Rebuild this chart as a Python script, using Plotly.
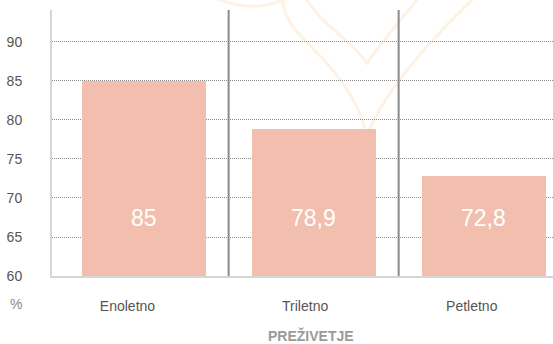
import plotly.graph_objects as go

# Survival rates (%)
categories = ["Enoletno", "Triletno", "Petletno"]
values = [85, 78.9, 72.8]
y_ticks = [60, 65, 70, 75, 80, 85, 90]
x_title = "PREŽIVETJE"
unit_label = "%"

W, H = 553, 344
L, R, T, B = 52, 0, 10, 68
PW, PH = W - L - R, H - T - B

FONT = "Liberation Sans Narrow, Arial Narrow, Liberation Sans, Arial, sans-serif"
BAR_COLOR = "#F2BFAE"

xpos = list(range(len(categories)))


def px(xp, yp):
    """pixel position -> paper coordinates"""
    return (xp - L) / PW, (H - B - yp) / PH


def path(points_cmds):
    out = []
    for cmd, pts in points_cmds:
        coords = " ".join("%.4f,%.4f" % px(*p) for p in pts)
        out.append(cmd + " " + coords)
    return " ".join(out)


fig = go.Figure()
fig.add_trace(go.Bar(
    x=xpos,
    y=values,
    width=0.73,
    marker=dict(color=BAR_COLOR, line=dict(width=0)),
    hoverinfo="skip",
))

# value labels inside the bars
for xi, v in zip(xpos, values):
    fig.add_annotation(
        x=xi, y=67.4, xref="x", yref="y",
        text=("%g" % v).replace(".", ","),
        showarrow=False,
        font=dict(family=FONT, size=23, color="white"),
        xanchor="center", yanchor="middle",
    )

shapes = []
# faint heart watermark in the background
wm = dict(type="path", xref="paper", yref="paper", layer="below",
          line=dict(color="rgba(250,200,160,0.26)", width=3),
          fillcolor="rgba(0,0,0,0)")
shapes.append(dict(wm, path=path([
    ("M", [(205, -6)]),
    ("Q", [(250, 15), (283, 0)]),
    ("C", [(283, 40), (345, 55), (367, 135)]),
    ("C", [(385, 90), (430, 40), (478, -6)]),
])))
shapes.append(dict(wm, path=path([
    ("M", [(303, -6)]),
    ("C", [(320, 25), (352, 40), (367, 63)]),
    ("C", [(380, 45), (400, 20), (422, -6)]),
])))

# vertical separators between the categories
for xs in [0.5, 1.5]:
    shapes.append(dict(type="line", xref="x", yref="paper",
                       x0=xs, x1=xs, y0=0, y1=1,
                       line=dict(color="#8a8a8a", width=2), layer="above"))

fig.update_layout(
    width=W, height=H,
    margin=dict(l=L, r=R, t=T, b=B, pad=0),
    paper_bgcolor="white", plot_bgcolor="white",
    showlegend=False,
    bargap=0,
    shapes=shapes,
    font=dict(family=FONT, color="#555555", size=14),
)

fig.update_xaxes(
    range=[-0.539, 2.408],
    tickvals=[-0.095, 0.95, 1.93],
    ticktext=categories,
    tickfont=dict(family=FONT, size=14, color="#555555"),
    ticks="",
    ticklabelstandoff=16,
    showgrid=False,
    zeroline=False,
    showline=True, linecolor="#d6d6d6", linewidth=2,
)
fig.update_yaxes(
    range=[60, 94.1],
    tickvals=y_ticks,
    tickfont=dict(family=FONT, size=14, color="#555555"),
    ticks="",
    ticklabelstandoff=25,
    showgrid=True, gridcolor="#8c8c8c", gridwidth=1, griddash="1px,1px",
    zeroline=False,
    showline=True, linecolor="#d6d6d6", linewidth=2,
)

# axis unit and title
fig.add_annotation(
    x=px(16, 0)[0], y=px(0, 304)[1], xref="paper", yref="paper",
    text=unit_label, showarrow=False,
    font=dict(family=FONT, size=14, color="#8a8a8a"),
    xanchor="center", yanchor="middle",
)
fig.add_annotation(
    x=px(311, 0)[0], y=px(0, 336)[1], xref="paper", yref="paper",
    text="<b>%s</b>" % x_title, showarrow=False,
    font=dict(family=FONT, size=14, color="#9a9a9a"),
    xanchor="center", yanchor="middle",
)

fig.write_html("out.html")
